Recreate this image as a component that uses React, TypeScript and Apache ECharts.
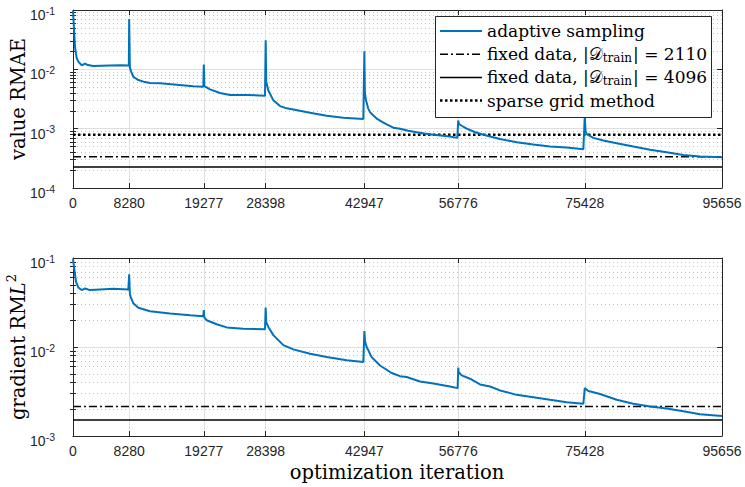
import React, { useEffect, useRef } from 'react';
import * as echarts from 'echarts';

// ---------- data ----------
const xTicks = [0, 8280, 19277, 28398, 42947, 56776, 75428, 95656];
const xMax = 95656;
const topExponents = [-4, -3, -2, -1];
const bottomExponents = [-3, -2, -1];

const valueIter = [
  0, 295, 541, 786, 1277, 1769, 2200, 2997, 4200, 5453, 7000, 8230,
  8280, 8380, 8600, 8893, 9629, 10400, 11349, 12823, 15279, 17736, 19210,
  19277, 19360, 20192, 21666, 23140, 25597, 28299,
  28398, 28480, 28790, 29527, 30510, 31500, 32474, 34931, 37388, 39843, 42791,
  42947, 43020, 43185, 43500, 43775, 44200, 44758, 45500, 46232, 47214, 48197, 49400, 50653, 51800, 53110, 55566, 56646,
  56776, 56900, 57286, 58023, 59200, 60479, 62936, 65392, 67849, 70305, 72762, 75218,
  75428, 75550, 75709, 76692, 78166, 80131, 82587, 85044, 87500, 89957, 92413, 95656,
];
const valueErr = [
  0.097, 0.024, 0.0155, 0.0135, 0.0117, 0.0125, 0.0118, 0.0114, 0.0115, 0.0116, 0.0117, 0.0116,
  0.0703, 0.0108, 0.009, 0.0075, 0.0066, 0.0062, 0.0059, 0.0058, 0.0055, 0.0052, 0.0051,
  0.0121, 0.0052, 0.0046, 0.004, 0.0037, 0.0037, 0.0036,
  0.031, 0.0062, 0.0044, 0.003, 0.0024, 0.0022, 0.0021, 0.00186, 0.00165, 0.00153, 0.00146,
  0.0202, 0.004, 0.003, 0.0022, 0.0019, 0.0017, 0.00148, 0.00132, 0.00118, 0.00104, 0.001, 0.00092, 0.00087, 0.00083, 0.00079, 0.00074, 0.0007,
  0.00137, 0.0012, 0.00112, 0.001, 0.00088, 0.00079, 0.00067, 0.00059, 0.00054, 0.0005, 0.00048, 0.00045,
  0.0016, 0.0009, 0.00081, 0.0007, 0.00063, 0.00057, 0.0005, 0.00044, 0.0004, 0.00036, 0.00034, 0.00033,
];

const gradIter = [
  0, 442, 786, 1277, 1769, 2506, 3980, 5944, 8155,
  8280, 8380, 8500, 8893, 9629, 11349, 14296, 17244, 19210,
  19277, 19350, 19701, 21175, 22649, 25105, 28299,
  28398, 28480, 28790, 29527, 31000, 32474, 34931, 37388, 40336, 42791,
  42947, 43050, 43283, 44021, 45249, 46969, 48197, 49180, 51145, 53110, 55566, 56695,
  56776, 56850, 57286, 58514, 59988, 61462, 62936, 65392, 67849, 70305, 72762, 75218,
  75428, 75954, 76692, 77675, 80131, 82587, 85044, 87500, 89957, 92413, 95656,
];
const gradErr = [
  0.097, 0.054, 0.0467, 0.0436, 0.0455, 0.0436, 0.0443, 0.045, 0.0443,
  0.0655, 0.04, 0.0366, 0.031, 0.0276, 0.0252, 0.0238, 0.0228, 0.0222,
  0.026, 0.0215, 0.02, 0.018, 0.0166, 0.016, 0.0158,
  0.0278, 0.019, 0.0168, 0.0136, 0.0105, 0.0094, 0.0084, 0.0077, 0.0071, 0.0068,
  0.0151, 0.0115, 0.01, 0.0077, 0.0062, 0.0051, 0.0047, 0.0046, 0.0041, 0.0039, 0.0036, 0.00345,
  0.00586, 0.0052, 0.0048, 0.0044, 0.0038, 0.0036, 0.00325, 0.0029, 0.00273, 0.00255, 0.0024, 0.0023,
  0.00345, 0.0032, 0.0031, 0.00296, 0.00255, 0.0023, 0.00215, 0.00204, 0.0019, 0.00176, 0.00168,
];

// fixed reference levels: [value RMAE, gradient RML2]
const fixed2110 = [3.35e-4, 2.15e-3];
const fixed4096 = [2.27e-4, 1.51e-3];
const sparseGrid = [7.9e-4];

const CAL_D = '𝒟';
const legendNames = [
  'adaptive sampling',
  `fixed data, |${CAL_D}train| = 2110`,
  `fixed data, |${CAL_D}train| = 4096`,
  'sparse grid method',
];

// ---------- styles ----------
const AX = '#262626';
const GRIDC = '#dfdfdf';
const MINORC = '#c2c2c2';
const BLUE = '#0072BD';
const SANS = 'Liberation Sans';
const SERIF = 'DejaVu Serif';
const DASHDOT = [8, 3, 2, 3];

const lineStyles = [
  { color: BLUE, width: 2, type: 'solid' as any },
  { color: '#000', width: 1.5, type: DASHDOT as any },
  { color: '#000', width: 1.5, type: 'solid' as any },
  { color: '#000', width: 2.5, type: [2.5, 2.5] as any },
];

const lg = (v: number) => Math.log10(v);
const pts = (xs: number[], ys: number[]) => xs.map((x, i) => [x, lg(ys[i])]);
const hline = (v: number) => [[0, lg(v)], [xMax, lg(v)]];

const minorLogs = (lo: number, hi: number) => {
  const out: number[] = [];
  for (let d = lo; d < hi; d++) for (let k = 2; k <= 9; k++) out.push(d + Math.log10(k));
  return out;
};

let measureCtx: CanvasRenderingContext2D | null = null;
function measure(text: string, size: number, family: string) {
  if (!measureCtx) measureCtx = document.createElement('canvas').getContext('2d');
  if (!measureCtx) return text.length * size * 0.55;
  measureCtx.font = `${size}px "${family}"`;
  return measureCtx.measureText(text).width;
}

function xAxes(gridIndex: number) {
  const line = { show: true, onZero: false, lineStyle: { color: AX, width: 1 } };
  const tick = { show: true, inside: true, length: 5, customValues: xTicks, lineStyle: { color: AX, width: 1 } };
  return [
    {
      type: 'value', gridIndex, min: 0, max: xMax, position: 'bottom',
      axisLine: line, axisTick: tick,
      axisLabel: {
        show: true, customValues: xTicks, margin: 8, fontSize: 14, fontFamily: SANS, color: AX,
        formatter: (v: number) => String(Math.round(v)),
      },
      splitLine: { show: true, lineStyle: { color: GRIDC, width: 1, type: 'solid' } },
    },
    {
      type: 'value', gridIndex, min: 0, max: xMax, position: 'top',
      axisLine: line, axisTick: tick, axisLabel: { show: false }, splitLine: { show: false },
    },
  ];
}

function yAxes(gridIndex: number, minExp: number) {
  const line = { show: true, onZero: false, lineStyle: { color: AX, width: 1 } };
  const minors = minorLogs(minExp, -1);
  const base = { type: 'value', gridIndex, min: minExp, max: -1, interval: 1 };
  return [
    {
      ...base, position: 'left', axisLine: line,
      axisTick: { show: true, inside: true, length: 5, lineStyle: { color: AX } },
      axisLabel: { show: false },
      splitLine: { show: true, lineStyle: { color: GRIDC, width: 1 } },
    },
    {
      ...base, position: 'right', axisLine: line,
      axisTick: { show: true, inside: true, length: 5, lineStyle: { color: AX } },
      axisLabel: { show: false }, splitLine: { show: false },
    },
    {
      ...base, position: 'left', axisLine: { show: false },
      axisTick: { show: true, inside: true, length: 3, customValues: minors, lineStyle: { color: AX } },
      axisLabel: { show: false },
      splitLine: { show: true, lineStyle: { color: MINORC, width: 1, type: [1, 3] } },
    },
    {
      ...base, position: 'right', axisLine: { show: false },
      axisTick: { show: true, inside: true, length: 3, customValues: minors, lineStyle: { color: AX } },
      axisLabel: { show: false }, splitLine: { show: false },
    },
  ];
}

function buildOption() {
  const common = {
    type: 'line', showSymbol: false, symbol: 'none', silent: true,
    emphasis: { disabled: true }, z: 3,
  };
  return {
    animation: false,
    backgroundColor: '#ffffff',
    grid: [
      { left: 73, right: 23, top: 10, height: 178 },
      { left: 73, right: 23, top: 258, height: 178 },
    ],
    xAxis: [...xAxes(0), ...xAxes(1)],
    yAxis: [...yAxes(0, -4), ...yAxes(1, -3)],
    series: [
      { ...common, name: legendNames[0], xAxisIndex: 0, yAxisIndex: 0, data: pts(valueIter, valueErr), lineStyle: lineStyles[0], z: 4 },
      { ...common, name: legendNames[1], xAxisIndex: 0, yAxisIndex: 0, data: hline(fixed2110[0]), lineStyle: lineStyles[1] },
      { ...common, name: legendNames[2], xAxisIndex: 0, yAxisIndex: 0, data: hline(fixed4096[0]), lineStyle: lineStyles[2] },
      { ...common, name: legendNames[3], xAxisIndex: 0, yAxisIndex: 0, data: hline(sparseGrid[0]), lineStyle: lineStyles[3] },
      { ...common, name: 'gradient adaptive', xAxisIndex: 2, yAxisIndex: 4, data: pts(gradIter, gradErr), lineStyle: lineStyles[0], z: 4 },
      { ...common, name: 'gradient fixed 2110', xAxisIndex: 2, yAxisIndex: 4, data: hline(fixed2110[1]), lineStyle: lineStyles[1] },
      { ...common, name: 'gradient fixed 4096', xAxisIndex: 2, yAxisIndex: 4, data: hline(fixed4096[1]), lineStyle: lineStyles[2] },
    ],
  };
}

function plainText(text: string, x: number, y: number, size: number, family: string, z: number, extra: any = {}) {
  return {
    type: 'text', x, y, silent: true, z,
    style: { text, fontFamily: family, fontSize: size, fill: extra.fill || '#000', align: extra.align || 'left', verticalAlign: 'middle', fontStyle: extra.fontStyle || 'normal' },
  };
}

function buildGraphics(chart: echarts.ECharts) {
  const g: any[] = [];
  // axis titles
  g.push({
    type: 'text', x: 18, y: 99, rotation: Math.PI / 2, silent: true, z: 50,
    style: { text: 'value RMAE', fontFamily: SERIF, fontSize: 19.5, fill: '#000', align: 'center', verticalAlign: 'middle' },
  });
  g.push({
    type: 'text', x: 18, y: 347, rotation: Math.PI / 2, silent: true, z: 50,
    style: {
      text: 'gradient RM{i|L}{p|2}', fontFamily: SERIF, fontSize: 19.5, fill: '#000', align: 'center', verticalAlign: 'middle',
      rich: {
        i: { fontFamily: SERIF, fontSize: 19.5, fontStyle: 'italic', fill: '#000' },
        p: { fontFamily: SERIF, fontSize: 13, fill: '#000', padding: [0, 0, 13, 0] },
      },
    },
  });
  g.push(plainText('optimization iteration', 397, 472, 19.5, SERIF, 50, { align: 'center' }));

  // y tick labels 10^k, positioned through the axes' own scales
  const BASE_FS = 14;
  const SUP_FS = 10.5;
  const addYLabels = (exps: number[], xAxisIndex: number, yAxisIndex: number) => {
    const px = chart.convertToPixel({ xAxisIndex } as any, 0) as unknown as number;
    exps.forEach((e) => {
      const py = chart.convertToPixel({ yAxisIndex } as any, e) as unknown as number;
      const supText = String(e);
      const right = px - 18;
      const supW = measure(supText, SUP_FS, SANS);
      g.push(plainText('10', right - supW, py + 5, BASE_FS, SANS, 50, { align: 'right', fill: AX }));
      g.push(plainText(supText, right - supW, py + 0.5, SUP_FS, SANS, 50, { align: 'left', fill: AX }));
    });
  };
  addYLabels(topExponents, 0, 0);
  addYLabels(bottomExponents, 2, 4);

  // legend box
  const L = { left: 435.5, top: 16.5, width: 276, height: 101, row0: 31, rowStep: 23.2, lineX1: 440, lineX2: 482, textX: 487 };
  const FS = 17;
  const SUB_FS = 12;
  g.push({
    type: 'rect', shape: { x: L.left, y: L.top, width: L.width, height: L.height }, silent: true, z: 100,
    style: { fill: '#ffffff', stroke: AX, lineWidth: 1 },
  });
  legendNames.forEach((name, i) => {
    const y = L.row0 + i * L.rowStep;
    const ls = lineStyles[i];
    g.push({
      type: 'line', silent: true, z: 101,
      shape: { x1: L.lineX1, y1: y, x2: L.lineX2, y2: y },
      style: { stroke: ls.color, lineWidth: ls.width, lineDash: Array.isArray(ls.type) ? ls.type : null },
    });
    const key = CAL_D + 'train';
    const k = name.indexOf(key);
    if (k < 0) {
      g.push(plainText(name, L.textX, y, FS, SERIF, 101));
    } else {
      const pre = name.slice(0, k);
      const post = name.slice(k + key.length);
      let x = L.textX;
      g.push(plainText(pre, x, y, FS, SERIF, 101));
      x += measure(pre, FS, SERIF);
      g.push(plainText(CAL_D, x, y, FS, 'DejaVu Sans', 101));
      x += measure(CAL_D, FS, 'DejaVu Sans');
      g.push(plainText('train', x, y + 4, SUB_FS, SERIF, 101));
      x += measure('train', SUB_FS, SERIF) + 1;
      g.push(plainText(post, x, y, FS, SERIF, 101));
    }
  });
  return g;
}

export default function App() {
  const ref = useRef<HTMLDivElement>(null);
  useEffect(() => {
    if (!ref.current) return;
    const chart = echarts.init(ref.current, undefined, { renderer: 'svg' });
    chart.setOption(buildOption() as any);
    chart.setOption({ graphic: buildGraphics(chart) } as any);
    return () => chart.dispose();
  }, []);
  return (
    <div
      ref={ref}
      style={{ position: 'fixed', left: 0, top: 0, width: 745, height: 487, background: '#fff' }}
    />
  );
}
